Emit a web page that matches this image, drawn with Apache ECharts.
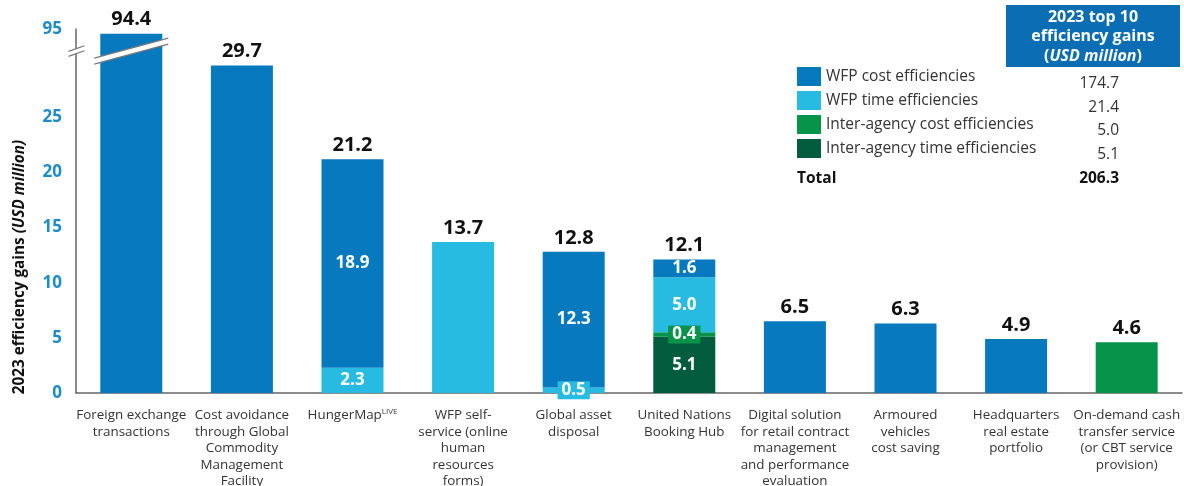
<!DOCTYPE html>
<html>
<head>
<meta charset="utf-8">
<script src="https://cdn.jsdelivr.net/npm/echarts@6/dist/echarts.min.js"></script>
<style>
  html, body { margin: 0; padding: 0; background: #fff; }
  #main { width: 1184px; height: 486px; }
</style>
</head>
<body>
<div id="main"></div>
<script>
// data
const categories = [
  'Foreign exchange\ntransactions',
  'Cost avoidance\nthrough Global\nCommodity\nManagement\nFacility',
  'HungerMap{sup|LIVE}',
  'WFP self-\nservice (online\nhuman\nresources\nforms)',
  'Global asset\ndisposal',
  'United Nations\nBooking Hub',
  'Digital solution\nfor retail contract\nmanagement\nand performance\nevaluation',
  'Armoured\nvehicles\ncost saving',
  'Headquarters\nreal estate\nportfolio',
  'On-demand cash\ntransfer service\n(or CBT service\nprovision)'
];
const seriesNames = ['WFP cost efficiencies', 'WFP time efficiencies', 'Inter-agency cost efficiencies', 'Inter-agency time efficiencies'];
const wfpCost   = [94.4, 29.7, 18.9, null, 12.3, 1.6, 6.5, 6.3, 4.9, null];
const wfpTime   = [null, null, 2.3, 13.7, 0.5, 5.0, null, null, null, null];
const interCost = [null, null, null, null, null, 0.4, null, null, null, 4.6];
const interTime = [null, null, null, null, null, 5.1, null, null, null, null];
const totals    = [94.4, 29.7, 21.2, 13.7, 12.8, 12.1, 6.5, 6.3, 4.9, 4.6];
const yTicks = [0, 5, 10, 15, 20, 25];
const breakTick = 95;
const summaryValues = ['174.7', '21.4', '5.0', '5.1'];
const summaryTotal = '206.3';

const colors = ['#0679BF', '#27BBE2', '#08934A', '#035C3E'];
const FONT = '"Open Sans", "Noto Sans", sans-serif';

// broken axis: everything above 30 is squeezed so 95 sits at 33
const AXIS_TOP = 33;
function toAxis(v) {
  if (v == null) return null;
  return v <= 30 ? v : AXIS_TOP - (breakTick - v) * 0.7;
}

// how many segments each bar has, inner labels only on stacked bars
const segCount = categories.map((c, i) =>
  [wfpCost, wfpTime, interCost, interTime].filter(a => a[i] != null).length);

function makeData(arr, color) {
  return arr.map((v, i) => {
    if (v == null) return '-';
    const small = v < 1;
    return {
      value: toAxis(v),
      label: {
        show: segCount[i] > 1,
        formatter: v.toFixed(1),
        backgroundColor: small ? color : 'transparent',
        padding: small ? [1, 4, 0, 4] : 0
      }
    };
  });
}

const segLabel = {
  position: 'inside',
  color: '#fff',
  fontWeight: 'bold',
  fontSize: 17,
  fontFamily: FONT
};

const order = [ // bottom to top
  [seriesNames[3], interTime, colors[3]],
  [seriesNames[2], interCost, colors[2]],
  [seriesNames[1], wfpTime, colors[1]],
  [seriesNames[0], wfpCost, colors[0]]
];

const series = order.map(([name, arr, color]) => ({
  name: name,
  type: 'bar',
  stack: 'a',
  barWidth: 62,
  itemStyle: { color: color },
  label: segLabel,
  data: makeData(arr, color)
}));

series.push({
  name: 'total',
  type: 'bar',
  stack: 'a',
  barWidth: 62,
  itemStyle: { color: 'transparent' },
  label: {
    show: true,
    position: 'top',
    distance: 4,
    color: '#111',
    fontWeight: 'bold',
    fontSize: 20,
    fontFamily: FONT,
    formatter: p => totals[p.dataIndex].toFixed(1)
  },
  data: totals.map(() => 0)
});

const myChart = echarts.init(document.getElementById('main'));

myChart.setOption({
  animation: false,
  grid: { left: 76, right: 2, top: 29, bottom: 93, outerBoundsMode: 'none', containLabel: false },
  legend: {
    data: seriesNames,
    orient: 'vertical',
    left: 797,
    top: 67,
    padding: 0,
    itemWidth: 24,
    itemHeight: 19,
    itemGap: 5,
    icon: 'rect',
    selectedMode: false,
    textStyle: { fontSize: 15.5, color: '#333', fontFamily: FONT }
  },
  xAxis: {
    type: 'category',
    data: categories,
    axisLine: { lineStyle: { color: '#666', width: 1.5 } },
    axisTick: { show: false },
    axisLabel: {
      interval: 0,
      margin: 14,
      fontSize: 13.4,
      lineHeight: 16.5,
      color: '#333',
      fontFamily: FONT,
      rich: {
        sup: { fontSize: 8, lineHeight: 16.5, color: '#333', fontFamily: FONT, padding: [0, 0, 8, 0] }
      }
    }
  },
  yAxis: {
    type: 'value',
    min: 0,
    max: AXIS_TOP,
    axisLine: { show: true, lineStyle: { color: '#666', width: 1.5 } },
    axisTick: { show: false },
    splitLine: { show: false },
    axisLabel: {
      customValues: yTicks.concat([AXIS_TOP]),
      formatter: v => (v === AXIS_TOP ? String(breakTick) : String(v)),
      margin: 14,
      color: '#1E8BCB',
      fontWeight: 'bold',
      fontSize: 17,
      fontFamily: FONT
    }
  },
  series: series
});

// break marks, axis title, summary table and header box
function breakMark(cx, cy, halfW, gap, slope) {
  const dy = halfW * slope;
  const p1 = [[cx - halfW, cy - gap / 2 + dy], [cx + halfW, cy - gap / 2 - dy]];
  const p2 = [[cx - halfW, cy + gap / 2 + dy], [cx + halfW, cy + gap / 2 - dy]];
  return [
    { type: 'polygon', z: 100, shape: { points: [p1[0], p1[1], p2[1], p2[0]] }, style: { fill: '#fff' } },
    { type: 'line', z: 101, shape: { x1: p1[0][0], y1: p1[0][1], x2: p1[1][0], y2: p1[1][1] }, style: { stroke: '#777', lineWidth: 1.2 } },
    { type: 'line', z: 101, shape: { x1: p2[0][0], y1: p2[0][1], x2: p2[1][0], y2: p2[1][1] }, style: { stroke: '#777', lineWidth: 1.2 } }
  ];
}

const breakPt = myChart.convertToPixel({ xAxisIndex: 0, yAxisIndex: 0 }, [0, 31]);
const originPt = myChart.convertToPixel({ xAxisIndex: 0, yAxisIndex: 0 }, [0, 0]);
const axisX = originPt[0] - 55.3;

const graphics = []
  .concat(breakMark(axisX + 0.5, breakPt[1], 8, 5, 0.35))
  .concat(breakMark(breakPt[0], breakPt[1], 37, 6, 0.27));

graphics.push({
  type: 'text', x: 20, y: 267, rotation: Math.PI / 2, z: 100,
  style: {
    text: '{b|2023 efficiency gains }{i|(USD million)}',
    align: 'center', verticalAlign: 'middle',
    rich: {
      b: { font: 'bold 15.3px ' + FONT, fill: '#111' },
      i: { font: 'italic bold 15.3px ' + FONT, fill: '#111' }
    }
  }
});

// summary column aligned with legend rows
const rowY = [83.5, 107.5, 131, 154.5];
summaryValues.forEach((v, i) => {
  graphics.push({
    type: 'text', x: 1119, y: rowY[i], z: 100,
    style: { text: v, align: 'right', verticalAlign: 'middle', font: '15.5px ' + FONT, fill: '#333' }
  });
});
graphics.push({
  type: 'text', x: 797, y: 179, z: 100,
  style: { text: 'Total', align: 'left', verticalAlign: 'middle', font: 'bold 15.5px ' + FONT, fill: '#111' }
});
graphics.push({
  type: 'text', x: 1119, y: 179, z: 100,
  style: { text: summaryTotal, align: 'right', verticalAlign: 'middle', font: 'bold 15.5px ' + FONT, fill: '#111' }
});

graphics.push({
  type: 'rect', z: 99, shape: { x: 1006, y: 5, width: 174, height: 62 }, style: { fill: '#0B6DB3' }
});
const headerLines = ['2023 top 10', 'efficiency gains'];
headerLines.forEach((t, i) => {
  graphics.push({
    type: 'text', x: 1093, y: 17 + i * 19.5, z: 100,
    style: { text: t, align: 'center', verticalAlign: 'middle', font: 'bold 16px ' + FONT, fill: '#fff' }
  });
});
graphics.push({
  type: 'text', x: 1093, y: 56, z: 100,
  style: {
    text: '{n|(}{i|USD million}{n|)}',
    align: 'center', verticalAlign: 'middle',
    rich: {
      n: { font: 'bold 16px ' + FONT, fill: '#fff' },
      i: { font: 'italic bold 16px ' + FONT, fill: '#fff' }
    }
  }
});

myChart.setOption({ graphic: graphics });
</script>
</body>
</html>
